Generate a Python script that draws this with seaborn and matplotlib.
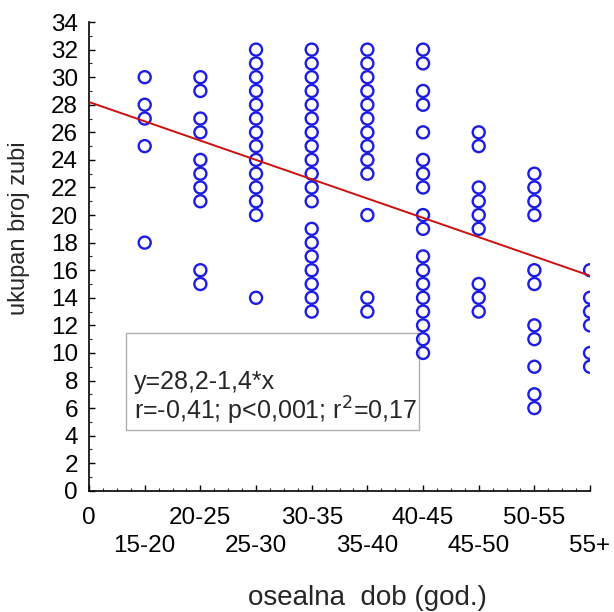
import pandas as pd
import matplotlib
matplotlib.use("Agg")
import matplotlib.pyplot as plt
import seaborn as sns
from matplotlib.patches import Rectangle
from matplotlib.ticker import MultipleLocator

# age groups (x position 1..9) and total teeth per subject
groups = ["15-20", "20-25", "25-30", "30-35", "35-40", "40-45", "45-50", "50-55", "55+"]
teeth_15_20 = [30, 28, 27, 25, 18]
teeth_20_25 = [30, 29, 27, 26, 24, 23, 22, 21, 16, 15]
teeth_25_30 = [32, 31, 30, 29, 28, 27, 26, 25, 24, 23, 22, 21, 20, 14]
teeth_30_35 = [32, 31, 30, 29, 28, 27, 26, 25, 24, 23, 22, 21, 19, 18, 17, 16, 15, 14, 13]
teeth_35_40 = [32, 31, 30, 29, 28, 27, 26, 25, 24, 23, 20, 14, 13]
teeth_40_45 = [32, 31, 29, 28, 26, 24, 23, 22, 20, 19, 17, 16, 15, 14, 13, 12, 11, 10]
teeth_45_50 = [26, 25, 22, 21, 20, 19, 15, 14, 13]
teeth_50_55 = [23, 22, 21, 20, 16, 15, 12, 11, 9, 7, 6]
teeth_55 = [16, 14, 13, 12, 10, 9]

# fitted line y = a + b*x
intercept = 28.2
slope = -1.4

tick_labels = ["0"] + groups

all_teeth = [teeth_15_20, teeth_20_25, teeth_25_30, teeth_30_35, teeth_35_40,
             teeth_40_45, teeth_45_50, teeth_50_55, teeth_55]
rows = []
for i, vals in enumerate(all_teeth):
    for v in vals:
        rows.append({"dob": i + 1, "zubi": v})
df = pd.DataFrame(rows)

sns.set_style("ticks")
plt.rcParams["font.family"] = ["Liberation Sans", "DejaVu Sans"]

fig = plt.figure(figsize=(6.14, 6.12), dpi=100)
ax = fig.add_axes([0.145, 0.198, 0.816, 0.766])

sns.scatterplot(data=df, x="dob", y="zubi", ax=ax, marker="o", s=75,
                facecolor="none", edgecolor="#1c1ce6", linewidth=1.7, zorder=3)

line_x = [0, 9]
line_y = [intercept + slope * x for x in line_x]
sns.lineplot(x=line_x, y=line_y, ax=ax, color="#cc0f0f", linewidth=1.4, zorder=4)

ax.set_xlim(0, 9)
ax.set_ylim(0, 34)
ax.yaxis.set_major_locator(MultipleLocator(2))
ax.yaxis.set_minor_locator(MultipleLocator(1))
ax.xaxis.set_minor_locator(MultipleLocator(0.25))

ax.set_xticks(range(10))
ax.set_xticklabels(tick_labels)

ax.tick_params(axis="both", which="major", direction="in", length=4, width=1,
               labelsize=17.5, colors="black")
ax.tick_params(axis="both", which="minor", direction="in", length=2, width=0.8)
ax.tick_params(axis="x", pad=12)
ax.tick_params(axis="y", pad=8)

# staggered x labels: odd groups on a second row
for i, tick in enumerate(ax.xaxis.get_major_ticks()):
    if i % 2 == 1:
        tick.set_pad(32)

sns.despine(ax=ax)
for sp in ["left", "bottom"]:
    ax.spines[sp].set_linewidth(1.2)
    ax.spines[sp].set_color("black")

ax.set_ylabel("ukupan broj zubi", fontsize=17)
ax.yaxis.set_label_coords(-0.117, 0.56)
ax.set_xlabel("osealna  dob (god.)", fontsize=20)
ax.xaxis.set_label_coords(0.555, -0.2)

# statistics box
ax.add_patch(Rectangle((0.665, 4.4), 5.26, 7.05, facecolor="white",
                       edgecolor="#b0b0b0", linewidth=1, zorder=2))
ax.text(0.8, 7.9, "y=28,2-1,4*x", fontsize=18, va="center", zorder=5)
ax.text(0.8, 5.8, "r=-0,41; p<0,001; r$^2$=0,17", fontsize=18, va="center", zorder=5)

fig.savefig("out.png", dpi=100)
